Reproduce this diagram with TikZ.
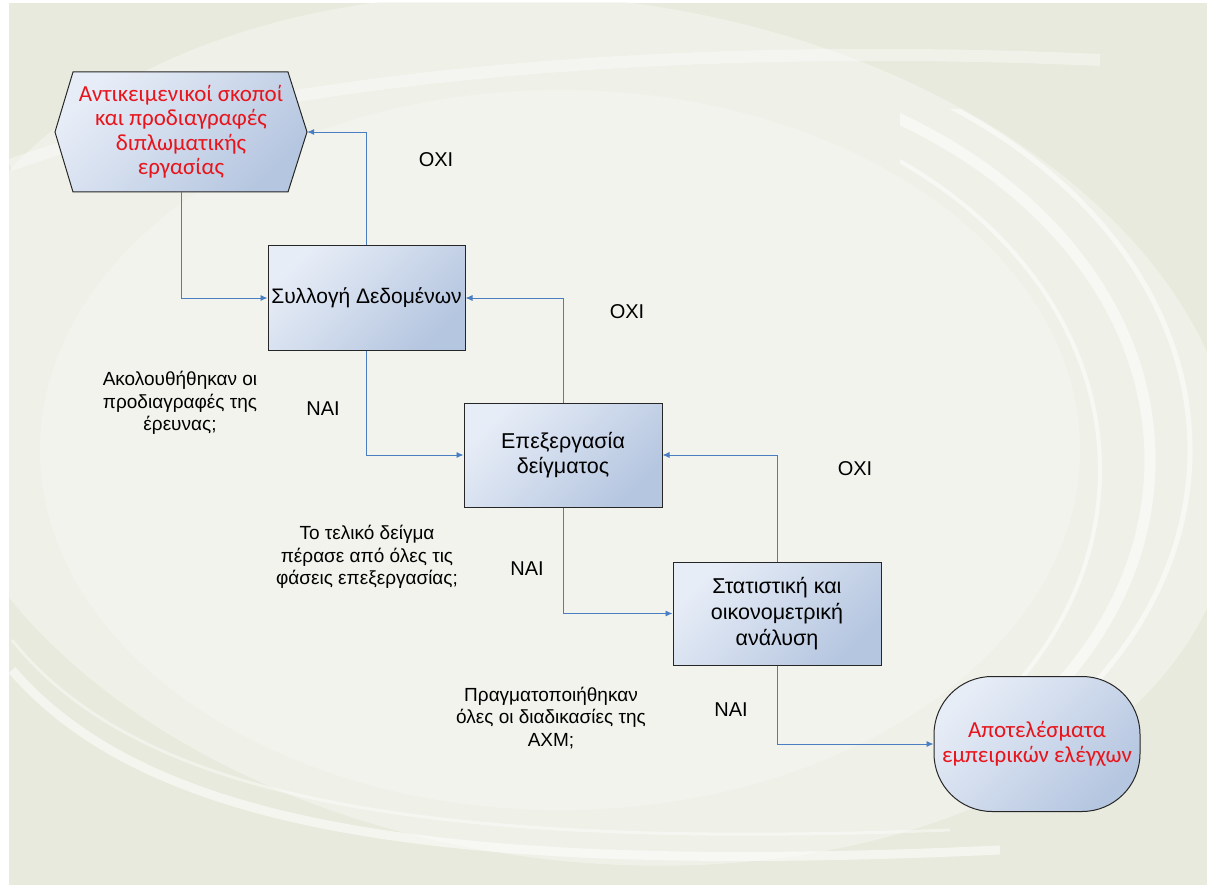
\documentclass[tikz,border=0pt]{standalone}
\usepackage{fontspec}
\setmainfont{Liberation Sans}
\newfontfamily\redfont{Carlito}
\usetikzlibrary{arrows.meta,shapes.misc}
\definecolor{bgc}{HTML}{E8EADD}
\definecolor{swoosh}{HTML}{F3F4EE}
\definecolor{boxl}{HTML}{E7EDF7}
\definecolor{boxr}{HTML}{B5C6E0}
\definecolor{arrc}{HTML}{4A7EC2}
\definecolor{redt}{HTML}{E8141C}
\tikzset{
  boxshade/.style={top color=boxl, bottom color=boxr, shading angle=45},
  boxnode/.style={draw=black!85, line width=1pt, boxshade,
    inner sep=0pt, align=center, font=\fontsize{21.5}{25}\selectfont},
  termnode/.style={rectangle, rounded corners=58pt, draw=black!85, line width=1pt,
    boxshade, inner sep=0pt, align=center,
    minimum width=206pt, minimum height=135pt, text=redt, font=\redfont\fontsize{23}{25}\selectfont},
  lbl/.style={align=center, font=\fontsize{19}{22.5}\selectfont},
  yn/.style={font=\fontsize{20}{22}\selectfont},
  arr/.style={draw=arrc, line width=0.9pt, -{Latex[length=7pt,width=6pt]}},
  band/.style={white, opacity=0.55},
}
\begin{document}
\begin{tikzpicture}[x=1pt,y=-1pt]
\useasboundingbox (0,0) rectangle (1207,885);
% background
\fill[white] (0,0) rectangle (1207,885);
\fill[bgc] (9,3) rectangle (1207,885);
\begin{scope}
\clip (9,3) rectangle (1207,885);
\fill[swoosh, opacity=0.7, rotate around={-8:(580,430)}] (580,430) ellipse [x radius=660, y radius=430];
\fill[swoosh, opacity=0.8] (560,450) ellipse [x radius=520, y radius=360];
% lower-left arc
\draw[band, line width=9pt] (12,670) .. controls (150,830) and (450,875) .. (1000,850);
\draw[band, line width=3pt, opacity=0.4] (12,640) .. controls (140,800) and (430,850) .. (950,830);
% upper band
\draw[band, line width=12pt, opacity=0.35] (10,165) .. controls (250,80) and (650,40) .. (1100,60);
\end{scope}
% right-hand arcs
\begin{scope}
\clip (900,110) rectangle (1207,730);
\draw[band, line width=4pt] (620,470) ellipse [x radius=480, y radius=380];
\draw[band, line width=11pt] (625,460) ellipse [x radius=525, y radius=400];
\draw[band, line width=5pt] (625,450) ellipse [x radius=565, y radius=420];
\end{scope}
% hexagon
\shade[boxshade, draw=black!85, line width=1pt]
  (55,132) -- (73,72) -- (288,72) -- (307,132) -- (288,192) -- (73,192) -- cycle;
\node[minimum width=252pt, minimum height=120pt, inner sep=0pt, align=center, text=redt,
  font=\redfont\fontsize{23}{24.5}\selectfont] (hex) at (181,132)
  {Αντικειμενικοί σκοποί\\και προδιαγραφές\\διπλωματικής\\εργασίας};
% boxes
\node[boxnode, minimum width=197pt, minimum height=104pt, font=\fontsize{21}{25}\selectfont] (b1) at (366.5,298) {Συλλογή Δεδομένων};
\node[boxnode, minimum width=198pt, minimum height=104pt] (b2) at (563,455) {Επεξεργασία\\δείγματος};
\node[boxnode, minimum width=208pt, minimum height=103pt, font=\fontsize{21.5}{26}\selectfont] (b3) at (777,613.5) {Στατιστική και\\οικονομετρική\\ανάλυση};
\node[termnode] (t) at (1037,744) {Αποτελέσματα\\εμπειρικών ελέγχων};
% connectors
\draw[arr] (hex.south) |- (b1.west);
\draw[arr] (b1.north) |- (hex.east);
\draw[arr] (b1.south) |- (b2.west);
\draw[arr] (b2.north) |- (b1.east);
\draw[arr] (b2.south) |- (b3.west);
\draw[arr] (b3.north) |- (b2.east);
\draw[arr] (b3.south) |- (t.west);
% labels
\node[yn] (o1) at (436,160) {ΟΧΙ};
\node[yn] (o2) at (627,312) {ΟΧΙ};
\node[yn] (o3) at (855,469) {ΟΧΙ};
\node[yn] (n1) at (323,409) {ΝΑΙ};
\node[yn] (n2) at (527,569) {ΝΑΙ};
\node[yn] (n3) at (731,710) {ΝΑΙ};
\node[lbl] (q1) at (180,403) {Ακολουθήθηκαν οι\\προδιαγραφές της\\έρευνας;};
\node[lbl] (q2) at (367,557) {Το τελικό δείγμα\\πέρασε από όλες τις\\φάσεις επεξεργασίας;};
\node[lbl] (q3) at (551,718) {Πραγματοποιήθηκαν\\όλες οι διαδικασίες της\\ΑΧΜ;};
\end{tikzpicture}
\end{document}
